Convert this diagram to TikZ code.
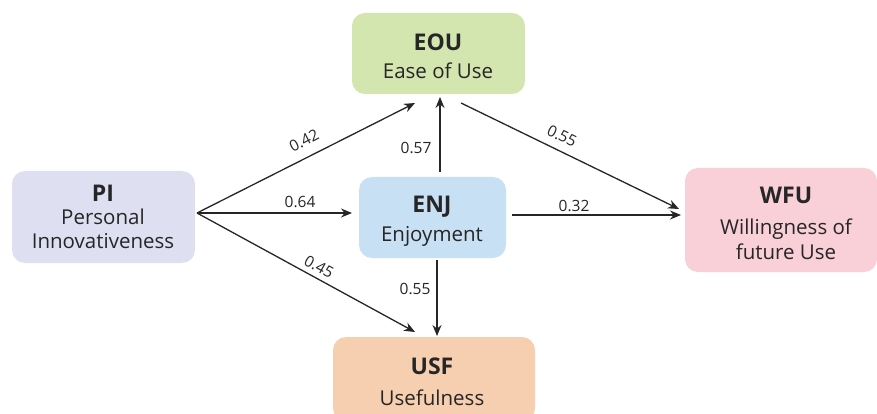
\documentclass[tikz,border=0pt]{standalone}
\usepackage{fontspec}
\setmainfont{Open Sans}
\usetikzlibrary{arrows.meta}
\definecolor{cEOU}{RGB}{211,230,176}
\definecolor{cPI}{RGB}{222,224,242}
\definecolor{cENJ}{RGB}{200,224,244}
\definecolor{cWFU}{RGB}{249,207,216}
\definecolor{cUSF}{RGB}{245,207,176}
\definecolor{ink}{RGB}{38,38,38}
\tikzset{
  box/.style={draw=none, rounded corners=13pt, inner sep=0pt},
  ttl/.style={font=\fontsize{23}{26}\selectfont\bfseries, text=ink, anchor=mid, inner sep=0pt},
  sub/.style={font=\fontsize{20.5}{23}\selectfont, text=ink, anchor=mid, inner sep=0pt},
  lbl/.style={font=\fontsize{15.5}{18}\selectfont, text=ink, inner sep=0pt},
  arr/.style={draw=ink, line width=1.3pt, -{Stealth[length=11pt,width=9pt]}}
}
\begin{document}
\begin{tikzpicture}[x=1pt,y=-1pt]
\useasboundingbox (0,0) rectangle (877,414);
% boxes
\node[box, fill=cEOU, minimum width=173pt, minimum height=81pt] (eou) at (438.5,53.5) {};
\node[box, fill=cPI, minimum width=183pt, minimum height=92pt] (pi) at (103.5,217) {};
\node[box, fill=cENJ, minimum width=147pt, minimum height=81pt] (enj) at (432.5,217.5) {};
\node[box, fill=cWFU, minimum width=192pt, minimum height=104pt] (wfu) at (781,220) {};
\node[box, fill=cUSF, minimum width=202pt, minimum height=84pt] (usf) at (434,379) {};
% texts
\node[ttl] (eout) at (438,48) {EOU};
\node[sub] (eous) at (438,76) {Ease of Use};
\node[ttl] (pit) at (103,199) {PI};
\node[sub] (pis1) at (103,222) {Personal};
\node[sub] (pis2) at (103,246) {Innovativeness};
\node[ttl] (enjt) at (432,210) {ENJ};
\node[sub] (enjs) at (432,239) {Enjoyment};
\node[ttl] (wfut) at (786,201) {WFU};
\node[sub] (wfus1) at (786,232) {Willingness of};
\node[sub] (wfus2) at (786,257) {future Use};
\node[ttl] (usft) at (432,372) {USF};
\node[sub] (usfs) at (432,403) {Usefulness};
% connector ends
\coordinate (piO) at (197,213);
\coordinate (eoA) at (415,103);
\coordinate (enA) at (352,213);
\coordinate (usA) at (415,332);
\coordinate (enT) at (440,172);
\coordinate (eoB) at (440,97);
\coordinate (enB) at (437,260);
\coordinate (usB) at (437,336);
\coordinate (eoC) at (461,103);
\coordinate (wfA) at (679,209);
\coordinate (enR) at (512,215);
\coordinate (wfB) at (681,215);
% arrows
\draw[arr] (piO) -- (eoA);
\draw[arr] (piO) -- (enA);
\draw[arr] (piO) -- (usA);
\draw[arr] (enT) -- (eoB);
\draw[arr] (enB) -- (usB);
\draw[arr] (eoC) -- (wfA);
\draw[arr] (enR) -- (wfB);
% labels
\node[lbl, rotate=27] (l1) at (304,141) {0.42};
\node[lbl] (l2) at (300,202) {0.64};
\node[lbl, rotate=-29] (l3) at (319,267) {0.45};
\node[lbl] (l4) at (416,148) {0.57};
\node[lbl] (l5) at (415,289) {0.55};
\node[lbl, rotate=-26] (l6) at (562,136) {0.55};
\node[lbl] (l7) at (574,206) {0.32};
\end{tikzpicture}
\end{document}
